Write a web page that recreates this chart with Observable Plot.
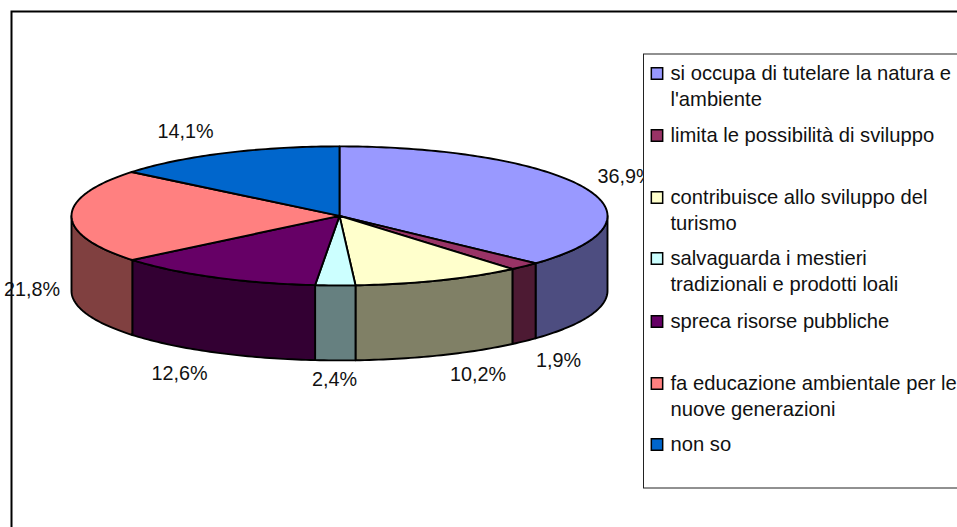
<!DOCTYPE html>
<html>
<head>
<meta charset="utf-8">
<script src="https://cdn.jsdelivr.net/npm/d3@7"></script>
<script src="https://cdn.jsdelivr.net/npm/@observablehq/plot@0.6"></script>
<style>html,body{margin:0;padding:0;background:#fff;overflow:hidden}svg{display:block}</style>
</head>
<body>
<div id="chart"></div>
<script>
// Data
const labels = ["36,9%", "1,9%", "10,2%", "2,4%", "12,6%", "21,8%", "14,1%"];
const values = [36.9, 1.9, 10.2, 2.4, 12.6, 21.8, 14.1];
const topColors = ["#9999FF", "#993366", "#FFFFCC", "#CCFFFF", "#660066", "#FF8080", "#0066CC"];
const sideColors = ["#4D4D80", "#4D1A33", "#808066", "#668080", "#330033", "#804040", "#003366"];
const categories = [
  ["si occupa di tutelare la natura e", "l'ambiente"],
  ["limita le possibilità di sviluppo"],
  ["contribuisce allo sviluppo del", "turismo"],
  ["salvaguarda i mestieri", "tradizionali e prodotti loali"],
  ["spreca risorse pubbliche"],
  ["fa educazione ambientale per le", "nuove generazioni"],
  ["non so"]
];

// Layout
const W = 957, H = 527;
const pie = {cx: 339, cy: 215.4, rx: 268, ry: 69.5, depth: 75};
const labelAt = [[625, 176.5], [558, 360.5], [477.5, 374.5], [334, 379.5], [179, 373.5], [31.5, 289.5], [185, 131.5]];
const legendRowY = [73, 135, 197, 258, 321, 383, 444];
const font = "Liberation Sans, Arial, sans-serif";
const pctSize = 19.8;
const legendSize = 20.2;

// Geometry derived from the values
const total = d3.sum(values);
let run = 0;
const slices = values.map((v, i) => {
  const a0 = run / total * 360; run += v;
  return {i, a0, a1: run / total * 360};
});
const pt = (deg, dz = 0) => {
  const t = deg * Math.PI / 180;
  return {x: pie.cx + pie.rx * Math.sin(t), y: pie.cy - pie.ry * Math.cos(t) + dz};
};
const arc = (a0, a1, dz = 0) => {
  const n = Math.max(2, Math.ceil(Math.abs(a1 - a0)));
  return d3.range(n + 1).map(k => pt(a0 + (a1 - a0) * k / n, dz));
};
const sideRows = [], topRows = [];
for (const s of slices) {
  const a0 = Math.max(s.a0, 90), a1 = Math.min(s.a1, 270);
  if (a1 > a0) {
    const ring = [...arc(a0, a1), ...arc(a1, a0, pie.depth)];
    ring.push(ring[0]);
    ring.forEach(p => sideRows.push({...p, key: s.i, color: sideColors[s.i]}));
  }
  const c = {x: pie.cx, y: pie.cy};
  [c, ...arc(s.a0, s.a1), c].forEach(p => topRows.push({...p, key: s.i, color: topColors[s.i]}));
}
const pctRows = labels.map((t, i) => ({t, x: labelAt[i][0], y: labelAt[i][1]}));
const legendSwatches = categories.map((c, i) => ({x: 656.5, y: legendRowY[i], color: topColors[i]}));
const legendText = categories.flatMap((c, i) => c.map((t, j) => ({t, x: 670, y: legendRowY[i] + j * 25.7})));

const plot = Plot.plot({
  width: W, height: H,
  marginTop: 0, marginRight: 0, marginBottom: 0, marginLeft: 0,
  x: {domain: [0, W], range: [0, W], axis: null},
  y: {domain: [0, H], range: [0, H], axis: null},
  style: {background: "#fff", fontFamily: font},
  marks: [
    Plot.rect([{x1: 11.5, x2: 1000, y1: 11.5, y2: 600}], {x1: "x1", x2: "x2", y1: "y1", y2: "y2", fill: "#fff", stroke: "#000", strokeWidth: 2, clip: false}),
    Plot.line(sideRows, {x: "x", y: "y", z: "key", fill: "color", stroke: "#000", strokeWidth: 1.9, strokeLinejoin: "round"}),
    Plot.line(topRows, {x: "x", y: "y", z: "key", fill: "color", stroke: "#000", strokeWidth: 1.9, strokeLinejoin: "round"}),
    Plot.text(pctRows, {x: "x", y: "y", text: "t", fontSize: pctSize, fill: "#111", textAnchor: "middle", lineAnchor: "middle"}),
    Plot.rect([{x1: 643.5, x2: 1000, y1: 54, y2: 488}], {x1: "x1", x2: "x2", y1: "y1", y2: "y2", fill: "#fff", stroke: "#222", strokeWidth: 1}),
    Plot.dot(legendSwatches, {x: "x", y: "y", symbol: "square", r: 6.4, fill: "color", stroke: "#000", strokeWidth: 1.5}),
    Plot.text(legendText, {x: "x", y: "y", text: "t", fontSize: legendSize, fill: "#111", textAnchor: "start", lineAnchor: "middle"})
  ]
});
document.getElementById("chart").appendChild(plot);
</script>
</body>
</html>
